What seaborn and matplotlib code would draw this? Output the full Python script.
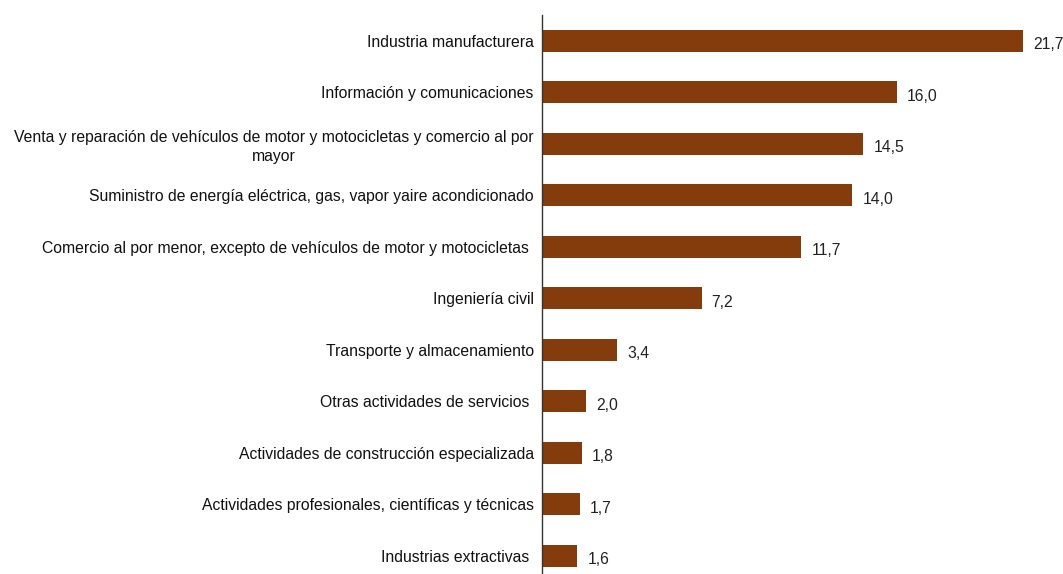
import pandas as pd
import matplotlib.pyplot as plt
import seaborn as sns

# Sectores y participación (%)
sectores = [
    "Industria manufacturera",
    "Información y comunicaciones",
    "Venta y reparación de vehículos de motor y motocicletas y comercio al por\nmayor",
    "Suministro de energía eléctrica, gas, vapor yaire acondicionado",
    "Comercio al por menor, excepto de vehículos de motor y motocicletas ",
    "Ingeniería civil",
    "Transporte y almacenamiento",
    "Otras actividades de servicios ",
    "Actividades de construcción especializada",
    "Actividades profesionales, científicas y técnicas",
    "Industrias extractivas ",
]
valores = [21.7, 16.0, 14.5, 14.0, 11.7, 7.2, 3.4, 2.0, 1.8, 1.7, 1.6]

df = pd.DataFrame({"sector": sectores, "valor": valores})

sns.set_style("white")
plt.rcParams["font.family"] = ["Liberation Sans", "DejaVu Sans"]

fig = plt.figure(figsize=(10.63, 5.74), dpi=100)
ax = fig.add_axes([542 / 1063, 0, 521 / 1063, 559 / 574])

sns.barplot(data=df, x="valor", y="sector", color="#843C0C", saturation=1,
            width=0.43, edgecolor="none", ax=ax)

for i, v in enumerate(valores):
    ax.text(v + 0.45, i + 0.08, f"{v:.1f}".replace(".", ","),
            va="center", ha="left", fontsize=11.3, color="#222222")

ax.set_xlim(0, 23.5)
ax.set_ylim(10.354, -0.5)
ax.set_xlabel("")
ax.set_ylabel("")
ax.set_xticks([])
ax.tick_params(axis="y", length=0, pad=6, labelsize=11.3, labelcolor="#111111")
for lbl in ax.get_yticklabels():
    lbl.set_multialignment("center")
    lbl.set_linespacing(1.35)

for s in ["top", "right", "bottom"]:
    ax.spines[s].set_visible(False)
ax.spines["left"].set_color("#333333")
ax.spines["left"].set_linewidth(1)

fig.savefig("out.png", dpi=100)
